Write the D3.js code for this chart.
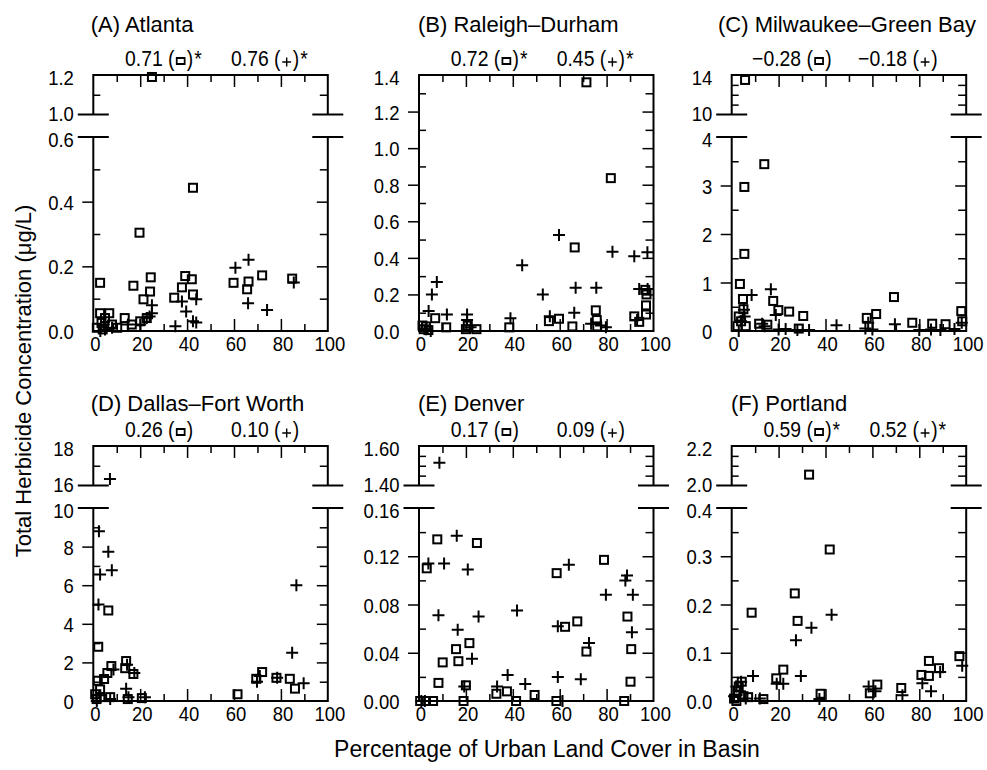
<!DOCTYPE html>
<html>
<head>
<meta charset="utf-8">
<script src="https://cdn.jsdelivr.net/npm/d3@7"></script>
<style>
body { margin: 0; background: #fff; }
svg { display: block; }
.num { font-family: 'Liberation Sans', Arial, sans-serif; font-size: 21px; fill: #000; }
.txt { font-family: 'Liberation Sans', Arial, sans-serif; font-size: 22px; fill: #000; }
</style>
</head>
<body>
<svg></svg>
<script>
let width = 987;
let height = 770;
let squeeze = 0.88; // narrow digits, like the condensed face of the original

let svg = d3.select('svg')
    .attr('width', width)
    .attr('height', height)

// x axis: percentage of urban land cover
let xLabels = [0, 20, 40, 60, 80, 100];
let xMinor = [10, 30, 50, 70, 90];

let titles = ['(A) Atlanta', '(B) Raleigh\u2013Durham', '(C) Milwaukee\u2013Green Bay',
    '(D) Dallas\u2013Fort Worth', '(E) Denver', '(F) Portland'];
// correlation coefficients: squares, plus, significance star
let rhoSquare = ['0.71', '0.72', '\u22120.28', '0.26', '0.17', '0.59'];
let rhoPlus = ['0.76', '0.45', '\u22120.18', '0.10', '0.09', '0.52'];
let signif = [true, true, false, false, false, true];

// y axis tick labels, lower segment and upper segment (above the break)
let lowerLabels = [
    [0, 0.2, 0.4, 0.6],
    [0, 0.2, 0.4, 0.6, 0.8, 1.0, 1.2, 1.4],
    [0, 1, 2, 3, 4],
    [0, 2, 4, 6, 8, 10],
    [0, 0.04, 0.08, 0.12, 0.16],
    [0, 0.1, 0.2, 0.3, 0.4]
];
let lowerMinor = [
    [0.1, 0.3, 0.5],
    [0.1, 0.3, 0.5, 0.7, 0.9, 1.1, 1.3],
    [0.5, 1.5, 2.5, 3.5],
    [1, 3, 5, 7, 9],
    [0.02, 0.06, 0.1, 0.14],
    [0.05, 0.15, 0.25, 0.35]
];
let upperLabels = [[1.0, 1.2], null, [10, 14], [16, 18], [1.40, 1.60], [2.0, 2.2]];
let upperMinor = [[1.1], null, [11, 12, 13], [17], [1.45, 1.5, 1.55], [2.05, 2.1, 2.15]];
let yDecimals = [1, 1, 0, 0, 2, 1];

// [percent urban, concentration]
let atlantaSquare = [[25, 1.19], [42.5, 0.443], [19.7, 0.304], [2.9, 0.149], [17.1, 0.14], [24.5, 0.166],
    [24.2, 0.122], [21.4, 0.098], [39.2, 0.17], [37.8, 0.135], [42, 0.16], [34.5, 0.103], [42.5, 0.113],
    [59.8, 0.149], [66.2, 0.153], [65.6, 0.129], [72, 0.172], [84.8, 0.162], [2.9, 0.055], [6.8, 0.055],
    [1.5, 0.01], [3.5, 0.025], [5, 0.04], [13.4, 0.04], [16.4, 0.02], [22.8, 0.04], [10.2, 0.01],
    [4, 0.005], [8, 0.02], [20, 0.03]];
let atlantaPlus = [[66.2, 0.22], [60.6, 0.196], [85.5, 0.15], [66, 0.086], [74.1, 0.065], [37.8, 0.091],
    [39.6, 0.06], [43.9, 0.098], [43.9, 0.026], [35, 0.015], [25, 0.08], [25, 0.055], [22.8, 0.04],
    [20, 0.02], [14.8, 0.02], [4.5, 0.02], [5, 0.005], [3, 0], [8, 0.01], [24, 0.045], [42.5, 0.03]];

let raleighSquare = [[71.4, 1.36], [81.8, 0.836], [66.4, 0.457], [55.4, 0.054], [59.7, 0.067], [65.4, 0.025],
    [75.4, 0.113], [75.8, 0.06], [76, 0.025], [91.8, 0.08], [93.9, 0.05], [96.8, 0.09], [96.8, 0.14],
    [97, 0.2], [96.5, 0.225], [6.9, 0.07], [11.6, 0.02], [2, 0.01], [3, 0.025], [4, 0.005], [20.8, 0.03],
    [20, 0.01], [24.5, 0.01], [38.5, 0.02], [1.5, 0.03]];
let raleighPlus = [[59.7, 0.525], [44, 0.36], [82.5, 0.433], [91.8, 0.409], [97.4, 0.43], [52.8, 0.2],
    [66.8, 0.237], [75.6, 0.237], [93.9, 0.23], [97.5, 0.23], [7.6, 0.268], [5.5, 0.2], [4.1, 0.11],
    [11.9, 0.09], [20.5, 0.09], [20.5, 0.06], [39, 0.07], [55.8, 0.08], [66.2, 0.1], [73.4, 0.04],
    [77.6, 0.03], [79.7, 0.02], [93, 0.06], [3, 0.01], [5, 0], [22, 0.02]];

let milwaukeeSquare = [[5.7, 13.5], [13.9, 3.44], [5.4, 2.97], [5.4, 1.59], [3.5, 0.97], [4.8, 0.66],
    [17.7, 0.62], [19.9, 0.43], [24.5, 0.4], [30.5, 0.31], [69.2, 0.7], [57.6, 0.27], [61.6, 0.35],
    [77, 0.17], [85.5, 0.15], [91.2, 0.14], [97.9, 0.41], [98.3, 0.2], [11.7, 0.15], [15.2, 0.13],
    [3, 0.3], [4, 0.2], [2.5, 0.1], [5, 0.45], [28.6, 0.05], [6, 0.1]];
let milwaukeePlus = [[16.7, 0.86], [8.5, 0.74], [18.8, 0.33], [5.2, 0.44], [44.7, 0.12], [69.6, 0.14],
    [58.2, 0.17], [98.1, 0.17], [20, 0.03], [28, 0.02], [33, 0.02], [57, 0.05], [60, 0.03], [80, 0.02],
    [85, 0.03], [89, 0.02], [95, 0.04], [3, 0], [4, 0.2], [14, 0.1], [5.5, 0.3], [23, 0.04], [13, 0.15]];

let dallasSquare = [[6.4, 4.69], [2.1, 2.81], [7.7, 1.81], [14, 2.07], [13.6, 1.7], [17.1, 1.4], [6, 1.45],
    [4.6, 1.14], [1.9, 1.05], [2.9, 0.6], [0.8, 0.35], [7.2, 0.2], [14.7, 0.1], [20.7, 0.15], [61.5, 0.35],
    [72, 1.5], [69.5, 1.15], [78.1, 1.2], [83.8, 1.15], [86, 0.64], [1.4, 0.1], [3, 0.2]];
let dallasPlus = [[7.1, 16.33], [2.4, 8.79], [6.4, 7.73], [2.9, 6.55], [7.9, 6.78], [2.2, 5.0], [86.6, 6.0],
    [84.8, 2.5], [89.7, 0.92], [69.8, 1.0], [78.4, 1.2], [14, 0.64], [17.5, 1.45], [8.6, 1.63], [14.4, 1.88],
    [3, 0.3], [7.2, 0.1], [15, 0.2], [22, 0.2], [1.5, 0], [71, 1.3]];

let denverSquare = [[7.8, 0.134], [24.7, 0.131], [3.3, 0.11], [58.7, 0.106], [78.9, 0.117], [88.9, 0.07],
    [62.3, 0.0615], [67.5, 0.066], [71.4, 0.041], [90.5, 0.043], [90.2, 0.016], [15.8, 0.043], [16.8, 0.033],
    [21.5, 0.048], [10.1, 0.032], [8.3, 0.015], [20, 0.013], [33, 0.006], [37.5, 0.008], [41.4, 0],
    [49.3, 0.005], [58.6, 0], [87.5, 0], [19, 0], [0.5, 0], [3, 0], [6, 0]];
let denverPlus = [[8.7, 1.515], [16.1, 0.137], [4, 0.114], [10.7, 0.114], [20.8, 0.109], [8.3, 0.071],
    [25.4, 0.07], [41.8, 0.075], [16.5, 0.059], [22.6, 0.035], [37.8, 0.0215], [33.3, 0.012], [19.3, 0.012],
    [45.3, 0.014], [59.2, 0.02], [69, 0.018], [63.9, 0.113], [59.2, 0.062], [79.7, 0.088], [88.7, 0.104],
    [88, 0.1], [91.2, 0.088], [90.8, 0.057], [72.5, 0.048], [1, 0], [2.5, 0], [61.2, 0]];

let portlandSquare = [[33, 2.055], [41.8, 0.314], [26.9, 0.223], [8.5, 0.183], [28.1, 0.166], [22, 0.065],
    [19, 0.047], [84.1, 0.083], [88.4, 0.068], [97.1, 0.093], [80.9, 0.054], [84.1, 0.052], [72.3, 0.027],
    [62.1, 0.034], [58.9, 0.016], [37.9, 0.015], [13.5, 0.004], [4.3, 0.04], [1, 0.005], [2.5, 0.02],
    [3, 0.03], [5, 0.01], [7, 0.008], [2, 0]];
let portlandPlus = [[42.6, 0.179], [34, 0.152], [27.4, 0.126], [29.5, 0.052], [9.1, 0.052], [22, 0.036],
    [19.2, 0.036], [85, 0.02], [81.3, 0.037], [88.9, 0.06], [98.3, 0.073], [72.8, 0.012], [61.3, 0.02],
    [58.4, 0.03], [37.4, 0.004], [1, 0.01], [2, 0.03], [3.5, 0.02], [6, 0.005], [12, 0.005], [4, 0.04]];

let squares = [atlantaSquare, raleighSquare, milwaukeeSquare, dallasSquare, denverSquare, portlandSquare];
let pluses = [atlantaPlus, raleighPlus, milwaukeePlus, dallasPlus, denverPlus, portlandPlus];

// layout
let panelLeft = [93.3, 419, 731.7, 93.3, 419, 731.7];
let panelW = 234.5;
let rowTop = [75, 446];
let rowBottom = [331, 701];
let titleX = [90.7, 418, 718, 90.7, 418, 731];
let titleY = [32, 411];

for (let i = 0; i < 6; i++) {
    drawPanel(i);
}

svg.append('text')
    .attr('class', 'txt')
    .attr('text-anchor', 'middle')
    .attr('transform', 'translate(31,381) rotate(-90)')
    .text('Total Herbicide Concentration (\u03bcg/L)')

svg.append('text')
    .attr('class', 'txt')
    .attr('x', 547)
    .attr('y', 757)
    .attr('text-anchor', 'middle')
    .style('font-size', '23px')
    .text('Percentage of Urban Land Cover in Basin')

function drawPanel(i) {
    let left = panelLeft[i];
    let right = left + panelW;
    let row = i < 3 ? 0 : 1;
    let top = rowTop[row];
    let bottom = rowBottom[row];
    let hasBreak = upperLabels[i] != null;
    let upBottom = top + 39.5;
    let lowTop = hasBreak ? top + 62 : top;
    let lo = lowerLabels[i];
    let fmt = d3.format('.' + yDecimals[i] + 'f');

    let x = d3.scaleLinear().domain([0, 100]).range([left, right]);
    let yLow = d3.scaleLinear().domain([0, lo[lo.length - 1]]).range([bottom, lowTop]);
    let yUp = null;
    if (hasBreak) {
        yUp = d3.scaleLinear().domain(upperLabels[i]).range([upBottom, top]);
    }
    let y = function (v) {
        if (hasBreak && v >= upperLabels[i][0]) return yUp(v);
        return yLow(v);
    }

    let g = svg.append('g');

    // marks
    g.selectAll('.sq')
        .data(squares[i])
        .enter()
        .append('rect')
        .attr('x', d => x(d[0]) - 4)
        .attr('y', d => y(d[1]) - 4)
        .attr('width', 8)
        .attr('height', 8)
        .attr('fill', 'none')
        .attr('stroke', '#000')
        .attr('stroke-width', 2)

    g.selectAll('.pl')
        .data(pluses[i])
        .enter()
        .append('path')
        .attr('d', d => 'M' + (x(d[0]) - 6) + ',' + y(d[1]) + 'h12M' + x(d[0]) + ',' + (y(d[1]) - 6) + 'v12')
        .attr('fill', 'none')
        .attr('stroke', '#000')
        .attr('stroke-width', 2)

    // x axes, bottom with labels, top without
    let xTicks = xLabels.concat(xMinor);
    let xb = g.append('g')
        .attr('transform', 'translate(0,' + bottom + ')')
        .call(d3.axisBottom(x).tickValues(xTicks).tickSizeInner(-7).tickSizeOuter(0).tickPadding(5)
            .tickFormat(d => xLabels.includes(d) ? d : ''));
    let xt = g.append('g')
        .attr('transform', 'translate(0,' + top + ')')
        .call(d3.axisTop(x).tickValues(xTicks).tickSizeInner(-7).tickSizeOuter(0).tickFormat(''));
    [xb, xt].forEach(function (a, k) {
        a.select('.domain').remove();
        a.selectAll('.tick line')
            .attr('stroke-width', 1.5)
            .attr('y2', function (d) {
                if (d == 0 || d == 100) return 0;
                let len = xLabels.includes(d) ? 12 : 7;
                return k == 0 ? -len : len;
            })
    });
    xb.selectAll('text')
        .attr('class', 'num')
        .attr('x', 1.5 / squeeze)
        .attr('transform', 'scale(' + squeeze + ',1)');

    // y axes
    yAxis(g, yLow, lo, lowerMinor[i], left, right, fmt, hasBreak ? 'lower' : 'single');
    if (hasBreak) {
        yAxis(g, yUp, upperLabels[i], upperMinor[i], left, right, fmt, 'upper');
    }

    // frame with axis breaks
    let frame = 'M' + left + ',' + top + 'H' + right
        + 'M' + left + ',' + bottom + 'H' + right;
    if (hasBreak) {
        [left, right].forEach(function (ax) {
            frame += 'M' + ax + ',' + top + 'V' + upBottom
                + 'M' + ax + ',' + lowTop + 'V' + bottom
                + 'M' + (ax - 14.5) + ',' + upBottom + 'h29'
                + 'M' + (ax - 14.5) + ',' + lowTop + 'h29';
        });
    } else {
        frame += 'M' + left + ',' + top + 'V' + bottom + 'M' + right + ',' + top + 'V' + bottom;
    }
    g.append('path')
        .attr('d', frame)
        .attr('fill', 'none')
        .attr('stroke', '#000')
        .attr('stroke-width', 2)
        .attr('stroke-linecap', 'square')

    // title and correlations
    g.append('text')
        .attr('class', 'txt')
        .attr('x', titleX[i])
        .attr('y', titleY[row])
        .text(titles[i])

    corrLabel(g, left + 100, top - 9, rhoSquare[i], 'square', signif[i]);
    corrLabel(g, left + 206, top - 9, rhoPlus[i], 'plus', signif[i]);
}

function yAxis(g, scale, labels, minor, left, right, fmt, part) {
    let ticks = labels.concat(minor);
    let first = labels[0];
    let last = labels[labels.length - 1];
    let ya = g.append('g')
        .attr('transform', 'translate(' + left + ',0)')
        .call(d3.axisLeft(scale).tickValues(ticks).tickSizeInner(11).tickSizeOuter(0).tickPadding(8.5)
            .tickFormat(d => labels.includes(d) ? fmt(d) : ''));
    ya.select('.domain').remove();
    ya.selectAll('.tick line')
        .attr('stroke-width', 1.5)
        .attr('x2', function (d) {
            if (d == first || d == last) return 0;
            return labels.includes(d) ? -11 : 7;
        })
    ya.selectAll('text')
        .attr('class', 'num')
        .attr('x', -19.5 / squeeze)
        .attr('transform', 'scale(' + squeeze + ',1)')
        .attr('dy', null)
        .attr('y', function (d) {
            let off = 7.5;
            if (d == last && part != 'lower') off += 2;
            if (d == first && part == 'upper') off -= 1.5;
            if (d == last && part == 'lower') off += 1.5;
            return off;
        })

    let yr = g.append('g')
        .attr('transform', 'translate(' + right + ',0)')
        .call(d3.axisRight(scale).tickValues(ticks).tickSizeInner(-8).tickSizeOuter(0).tickFormat(''));
    yr.select('.domain').remove();
    yr.selectAll('.tick line')
        .attr('stroke-width', 1.5)
        .attr('x2', function (d) {
            if (d == first || d == last) return 0;
            return labels.includes(d) ? -11 : -8;
        })
}

function corrLabel(g, xEnd, baseline, value, symbol, star) {
    let outer = g.append('g');
    let lab = outer.append('g').attr('transform', 'scale(' + squeeze + ',1)');
    let t1 = lab.append('text')
        .attr('class', 'num')
        .style('font-size', '22px')
        .attr('x', 0)
        .attr('y', 0)
        .text(value + ' (')
    let w1 = t1.node().getComputedTextLength();
    let cx = w1 + 7;
    if (symbol == 'square') {
        lab.append('rect')
            .attr('x', cx - 4.5)
            .attr('y', -8)
            .attr('width', 9)
            .attr('height', 6)
            .attr('fill', 'none')
            .attr('stroke', '#000')
            .attr('stroke-width', 2)
    } else {
        lab.append('path')
            .attr('d', 'M' + (cx - 5) + ',-4h10M' + cx + ',-8.5v9')
            .attr('stroke', '#000')
            .attr('stroke-width', 1.6)
    }
    let t2 = lab.append('text')
        .attr('class', 'num')
        .style('font-size', '22px')
        .attr('x', w1 + 14)
        .attr('y', 0)
        .text(')')
    let end = w1 + 14 + t2.node().getComputedTextLength();
    if (star) {
        lab.append('text')
            .attr('class', 'num')
            .style('font-size', '22px')
            .attr('x', end + 1)
            .attr('y', 0)
            .text('*')
    }
    outer.attr('transform', 'translate(' + (xEnd - end * squeeze) + ',' + baseline + ')');
}
</script>
</body>
</html>
